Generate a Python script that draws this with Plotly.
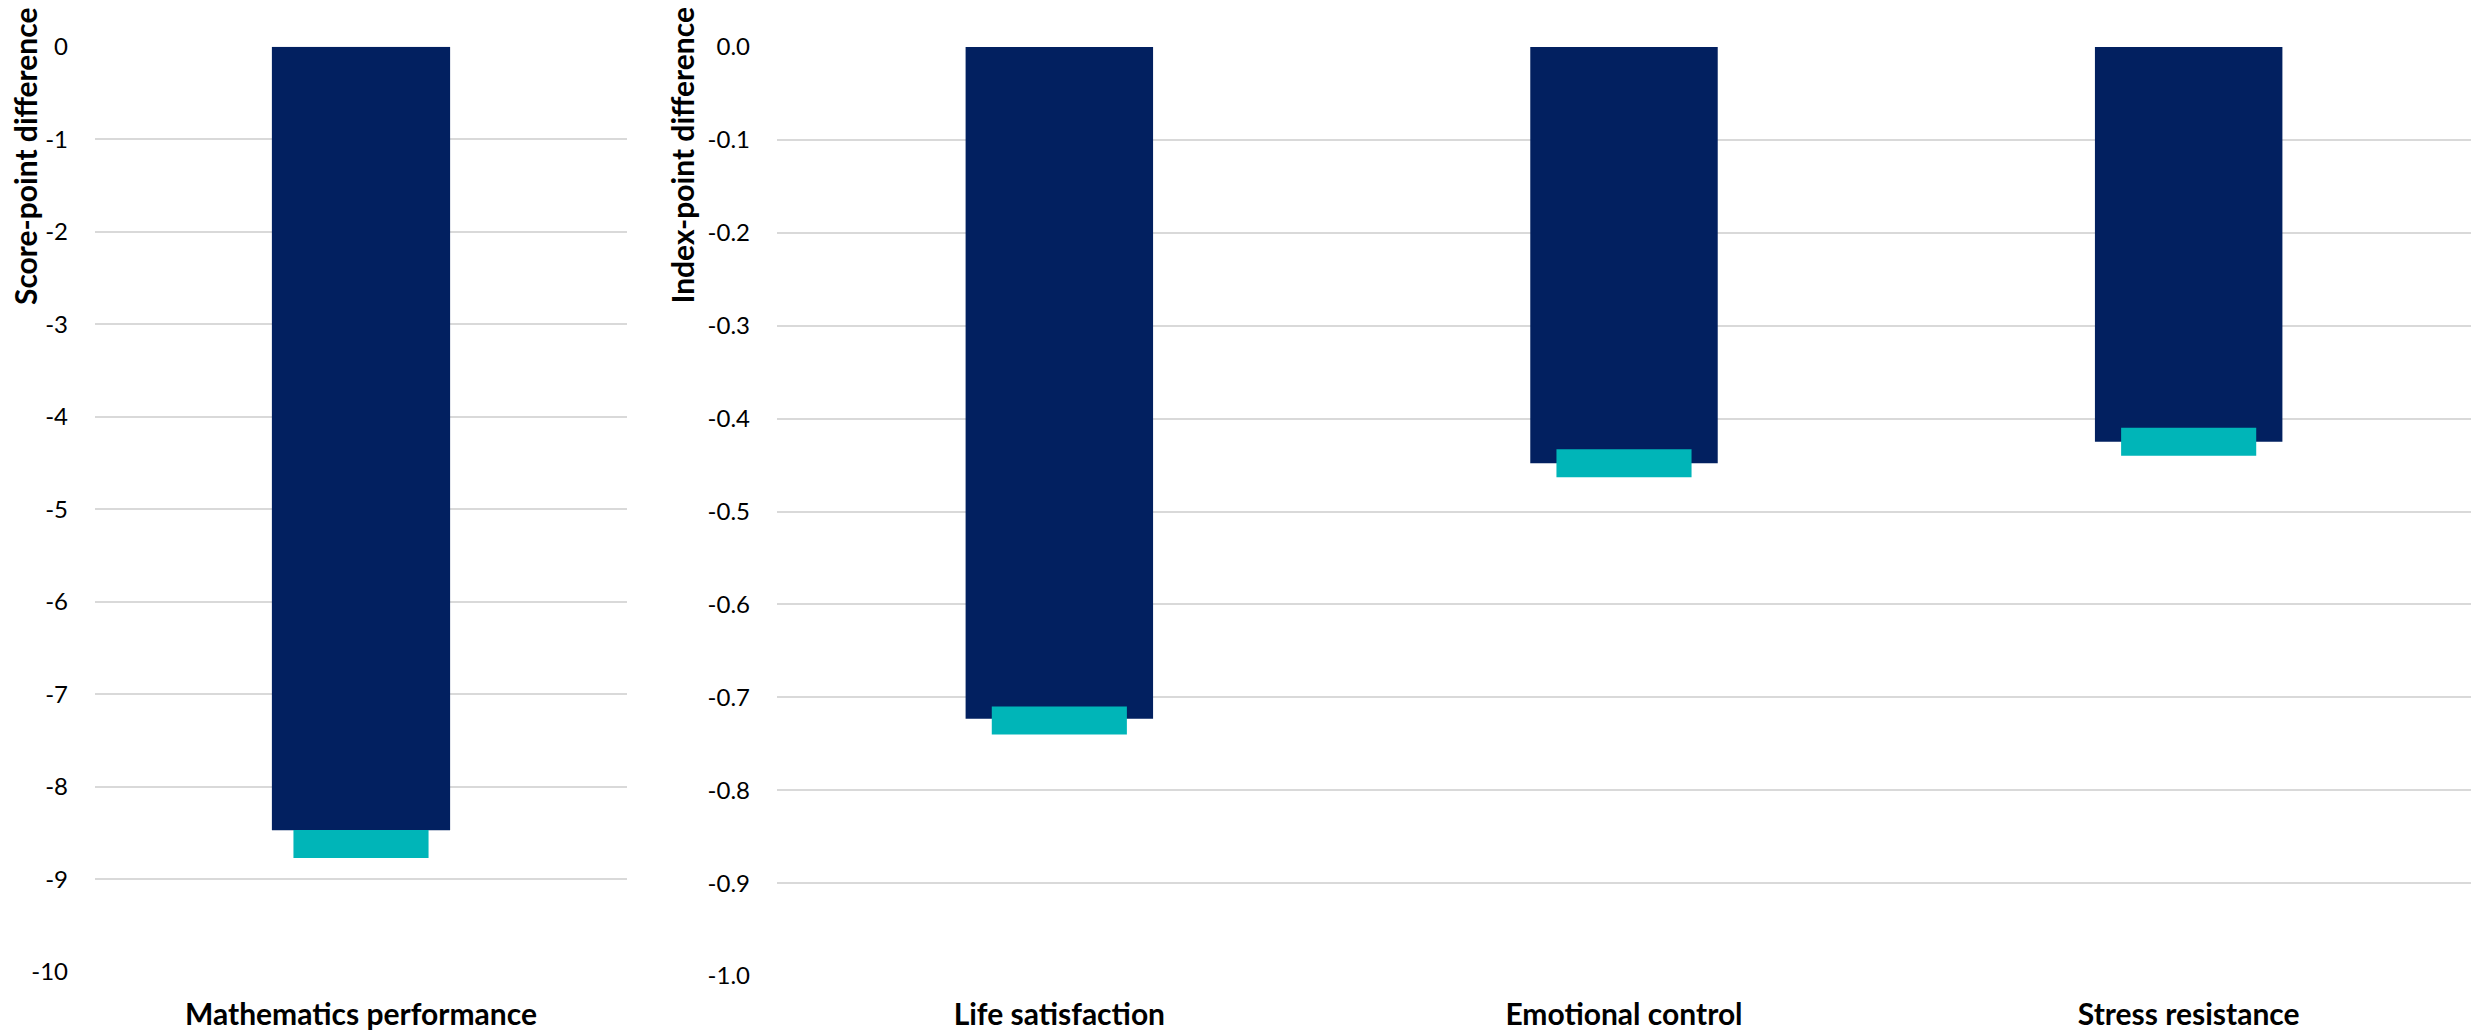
import plotly.graph_objects as go

# ---- data ----
left_categories = ["Mathematics performance"]
left_bar_values = [-8.47]
left_marker_values = [-8.62]

right_categories = ["Life satisfaction", "Emotional control", "Stress resistance"]
right_bar_values = [-0.723, -0.448, -0.425]
right_marker_values = [-0.725, -0.448, -0.425]

left_ticks = [0, -1, -2, -3, -4, -5, -6, -7, -8, -9, -10]
left_tick_text = ["0", "-1", "-2", "-3", "-4", "-5", "-6", "-7", "-8", "-9", "-10"]
right_ticks = [0.0, -0.1, -0.2, -0.3, -0.4, -0.5, -0.6, -0.7, -0.8, -0.9, -1.0]
right_tick_text = ["0.0", "-0.1", "-0.2", "-0.3", "-0.4", "-0.5", "-0.6", "-0.7", "-0.8", "-0.9", "-1.0"]

left_title = "Score-point difference"
right_title = "Index-point difference"

# ---- styles ----
W, H = 2471, 1031
NAVY = "#022060"
TEAL = "#00B5B8"
GRID = "#D9D9D9"
FONT = "Lato, 'Open Sans', sans-serif"
TICK_SIZE = 24
CAT_SIZE = 30
TITLE_SIZE = 30
MARKER_SIZE = 96.5   # line-ew length = 1.4 * size -> ~135 px
MARKER_THICK = 28

fig = go.Figure()

fig.add_trace(go.Bar(x=left_categories, y=left_bar_values, xaxis="x", yaxis="y",
                     marker=dict(color=NAVY, line=dict(width=0)), width=0.335,
                     showlegend=False, hoverinfo="y"))
fig.add_trace(go.Scatter(x=left_categories, y=left_marker_values, xaxis="x", yaxis="y",
                         mode="markers",
                         marker=dict(symbol="line-ew", size=MARKER_SIZE, color=TEAL,
                                     line=dict(color=TEAL, width=MARKER_THICK)),
                         showlegend=False, hoverinfo="y"))

fig.add_trace(go.Bar(x=right_categories, y=right_bar_values, xaxis="x2", yaxis="y2",
                     marker=dict(color=NAVY, line=dict(width=0)), width=0.332,
                     showlegend=False, hoverinfo="y"))
fig.add_trace(go.Scatter(x=right_categories, y=right_marker_values, xaxis="x2", yaxis="y2",
                         mode="markers",
                         marker=dict(symbol="line-ew", size=MARKER_SIZE, color=TEAL,
                                     line=dict(color=TEAL, width=MARKER_THICK)),
                         showlegend=False, hoverinfo="y"))

ydom_left = [59.3 / H, 1 - 46.7 / H]
ydom_right = [55 / H, 1 - 47 / H]

common_x = dict(showgrid=False, zeroline=False, showline=False, ticks="", automargin=False,
                tickfont=dict(family=FONT, size=CAT_SIZE, color="#000000", weight="bold"),
                fixedrange=True)
common_y = dict(showgrid=True, gridcolor=GRID, gridwidth=2, zeroline=False, showline=False,
                automargin=False,
                ticks="", tickfont=dict(family=FONT, size=TICK_SIZE, color="#000000"),
                ticklabelstandoff=26, fixedrange=True)

fig.update_layout(
    width=W, height=H,
    margin=dict(l=0, r=0, t=0, b=0, pad=0),
    paper_bgcolor="white", plot_bgcolor="white",
    barmode="overlay",
    xaxis=dict(domain=[95 / W, 627 / W], anchor="y", range=[-0.5, 0.5],
               ticklabelstandoff=22, **common_x),
    yaxis=dict(domain=ydom_left, anchor="x", range=[-10, 0], tickvals=left_ticks,
               ticktext=left_tick_text, **common_y),
    xaxis2=dict(domain=[777 / W, 1.0], anchor="y2", range=[-0.5, 2.5],
                ticklabelstandoff=18, **common_x),
    yaxis2=dict(domain=ydom_right, anchor="x2", range=[-1.0, 0.0], tickvals=right_ticks,
                ticktext=right_tick_text, **common_y),
    annotations=[
        dict(text=left_title, textangle=-90, xref="paper", yref="paper",
             x=25 / W, y=1 - 5 / H, xanchor="center", yanchor="top", showarrow=False,
             font=dict(family=FONT, size=TITLE_SIZE, color="#000000", weight="bold")),
        dict(text=right_title, textangle=-90, xref="paper", yref="paper",
             x=681 / W, y=1 - 5 / H, xanchor="center", yanchor="top", showarrow=False,
             font=dict(family=FONT, size=TITLE_SIZE, color="#000000", weight="bold")),
    ],
)

fig.write_html("out.html")
